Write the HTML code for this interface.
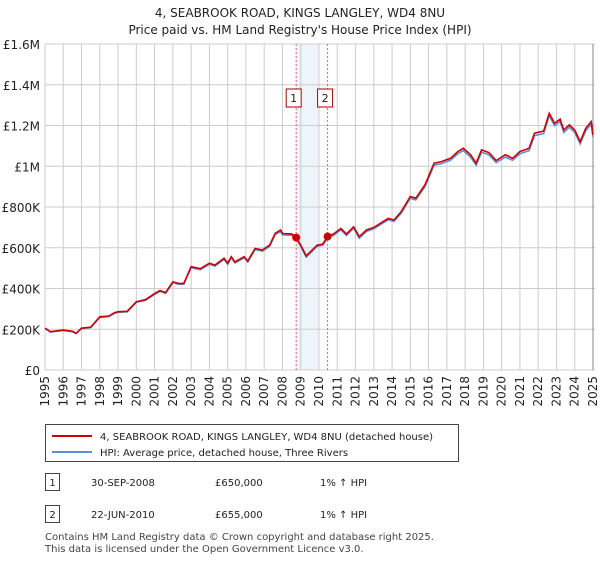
<!DOCTYPE html>
<html><head><meta charset="utf-8"><style>
body{margin:0;background:#fff;font-family:"Liberation Sans","DejaVu Sans",sans-serif;}
svg text{font-family:"DejaVu Sans","Liberation Sans",sans-serif;}
</style></head><body>
<svg width="600" height="560" viewBox="0 0 600 560" xmlns="http://www.w3.org/2000/svg">
<g id="chart"></g>
</svg>
<script>
const years=[1995,1995.3,1996,1996.5,1996.7,1997,1997.5,1998,1998.5,1998.8,1999,1999.5,2000,2000.5,2001,2001.3,2001.6,2002,2002.3,2002.6,2003,2003.5,2004,2004.3,2004.8,2005,2005.2,2005.4,2005.9,2006.1,2006.5,2006.9,2007.3,2007.6,2007.9,2008,2008.5,2008.75,2009,2009.3,2009.9,2010.2,2010.47,2010.8,2011.2,2011.5,2011.9,2012.2,2012.6,2013,2013.5,2013.8,2014.1,2014.5,2015,2015.3,2015.8,2016.3,2016.7,2017.2,2017.6,2017.9,2018.3,2018.6,2018.9,2019.3,2019.7,2020.2,2020.6,2021,2021.5,2021.8,2022.3,2022.6,2022.9,2023.2,2023.4,2023.7,2024,2024.3,2024.6,2024.9,2025];
const priceK=[205,188,196,190,180,205,210,261,265,281,286,288,335,345,375,390,380,433,425,425,507,497,524,515,548,524,556,530,556,535,597,589,613,671,687,670,668,650,613,560,613,618,655,668,695,667,703,654,687,700,728,744,736,777,851,843,908,1015,1023,1039,1072,1088,1056,1015,1080,1067,1028,1056,1039,1072,1088,1162,1173,1260,1211,1231,1178,1203,1178,1121,1186,1219,1154];
const hpiK=[203,186,194,188,178,203,208,258,262,278,283,285,332,342,371,386,376,429,421,421,502,492,519,510,543,519,550,525,550,530,591,583,607,664,680,663,661,644,607,554,607,612,648,661,688,660,696,647,680,693,721,737,729,769,843,835,899,1005,1013,1029,1061,1077,1045,1005,1069,1056,1018,1045,1029,1061,1077,1150,1161,1247,1199,1219,1166,1191,1166,1110,1174,1207,1142];
const yTicks=[0,200,400,600,800,1000,1200,1400,1600];
const yTickLabels=["£0","£200K","£400K","£600K","£800K","£1M","£1.2M","£1.4M","£1.6M"];
const sales=[{n:"1",t:2008.75,v:650},{n:"2",t:2010.47,v:655}];
const X0=45,X1=593,Y0=370,Y1=44;
const xs=t=>X0+(t-1995)/30*(X1-X0);
const ys=v=>Y0-v/1600*(Y0-Y1);
const g=document.getElementById('chart');
const NS="http://www.w3.org/2000/svg";
function mk(tag,a,p){const e=document.createElementNS(NS,tag);for(const k in a)e.setAttribute(k,a[k]);(p||g).appendChild(e);return e;}
function txt(s,a){const e=mk('text',a);e.textContent=s;return e;}
// title
let t1=txt("4, SEABROOK ROAD, KINGS LANGLEY, WD4 8NU",{x:300,y:17,'text-anchor':'middle','font-size':12,fill:'#222'});

let t2=txt("Price paid vs. HM Land Registry's House Price Index (HPI)",{x:300,y:34,'text-anchor':'middle','font-size':12,fill:'#222'});

// shading
let sh=mk('rect',{x:xs(2008.75),y:Y1,width:xs(2010.0)-xs(2008.75),height:Y0-Y1,fill:'#eef3fc'});

// grid
for(let yr=1995;yr<=2025;yr++){
 const l=mk('line',{x1:xs(yr),x2:xs(yr),y1:Y1,y2:Y0,stroke:'#cccccc','stroke-width':1});
 
 const tx=txt(String(yr),{x:0,y:0,'font-size':12,fill:'#222','text-anchor':'end',transform:`translate(${xs(yr)+4},${Y0+6}) rotate(-90)`});
 
}
yTicks.forEach((v,i)=>{
 const l=mk('line',{x1:X0,x2:X1+2,y1:ys(v),y2:ys(v),stroke:'#cccccc','stroke-width':1});
 
 const tx=txt(yTickLabels[i],{x:40,y:ys(v)+5,'font-size':12,fill:'#222','text-anchor':'end'});
 
});
let ax=mk('line',{x1:X1,x2:X1,y1:Y1,y2:Y0,stroke:'#888','stroke-width':1});

// sale vlines
sales.forEach(s=>{
 const l=mk('line',{x1:xs(s.t),x2:xs(s.t),y1:Y1,y2:Y0,stroke:'#e06070','stroke-width':1,'stroke-dasharray':'2,2'});
 
});
// series
const pts=a=>a.map((v,i)=>xs(years[i]).toFixed(1)+','+ys(v).toFixed(1)).join(' ');
let hp=mk('polyline',{points:pts(hpiK),fill:'none',stroke:'#5b8fd6','stroke-width':1.6});

let pp=mk('polyline',{points:pts(priceK),fill:'none',stroke:'#cc0000','stroke-width':1.6});

sales.forEach(s=>{
 const c=mk('circle',{cx:xs(s.t),cy:ys(s.v),r:4,fill:'#cc0000'});
 
 const b=mk('rect',{x:xs(s.t)-10,y:89,width:15,height:18,fill:'#fff',stroke:'#aa0000'});
 
 const tx=txt(s.n,{x:xs(s.t)-2.5,y:102,'font-size':11,fill:'#222','text-anchor':'middle'});
 
});
// legend
let lg=mk('rect',{x:45.5,y:424.5,width:413,height:37,fill:'#fff',stroke:'#444'});

let l1=mk('line',{x1:52,x2:92,y1:436,y2:436,stroke:'#cc0000','stroke-width':2});

let lt1=txt("4, SEABROOK ROAD, KINGS LANGLEY, WD4 8NU (detached house)",{x:100,y:440,'font-size':10,fill:'#222'});

let l2=mk('line',{x1:52,x2:92,y1:452,y2:452,stroke:'#5b8fd6','stroke-width':2});

let lt2=txt("HPI: Average price, detached house, Three Rivers",{x:100,y:456,'font-size':10,fill:'#222'});

// table
const rows=[["1","30-SEP-2008","£650,000","1% ↑ HPI",485],["2","22-JUN-2010","£655,000","1% ↑ HPI",517]];
rows.forEach(r=>{
 const b=mk('rect',{x:45.5,y:r[4]-11.5,width:14,height:17,fill:'#fff',stroke:'#444'});
 
 const a=txt(r[0],{x:52.5,y:r[4]+1,'font-size':10,'text-anchor':'middle',fill:'#222'});
 const d=txt(r[1],{x:91,y:r[4]+1,'font-size':10,fill:'#222'});
 const p=txt(r[2],{x:215,y:r[4]+1,'font-size':10,fill:'#222'});
 const h=txt(r[3],{x:320,y:r[4]+1,'font-size':10,fill:'#222'});
});
let f1=txt("Contains HM Land Registry data © Crown copyright and database right 2025.",{x:45,y:540,'font-size':10,fill:'#444'});

let f2=txt("This data is licensed under the Open Government Licence v3.0.",{x:45,y:552,'font-size':10,fill:'#444'});

</script>
</body></html>
